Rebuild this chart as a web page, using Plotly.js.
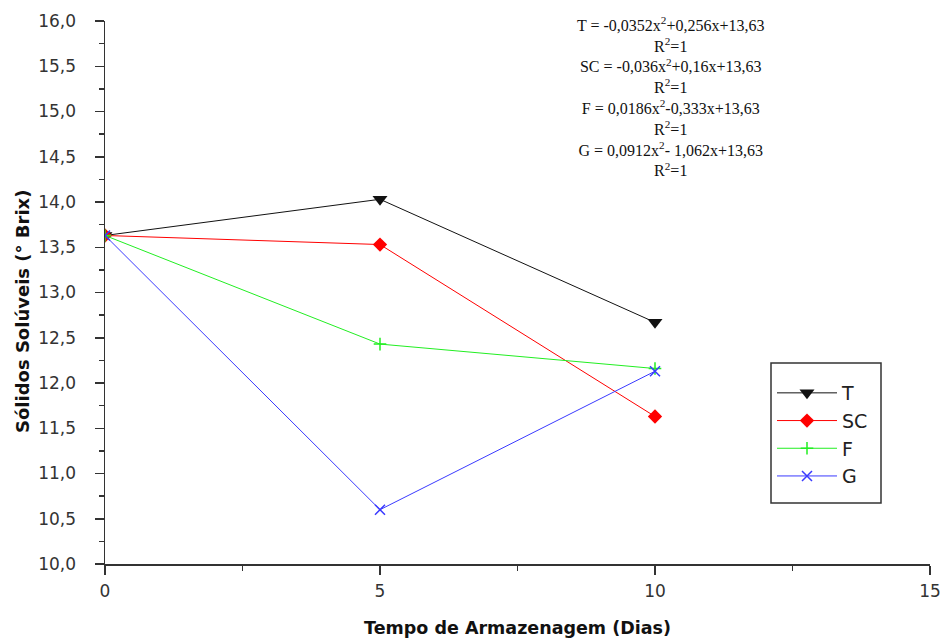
<!DOCTYPE html>
<html>
<head>
<meta charset="utf-8">
<script src="https://cdn.plot.ly/plotly-3.0.1.min.js"></script>
<style>html,body{margin:0;padding:0;background:#fff;}#chart{width:944px;height:638px;}</style>
</head>
<body>
<div id="chart"></div>
<script>
const days = [0, 5, 10];
const seriesNames = ["T", "SC", "F", "G"];
const valuesT = [13.63, 14.03, 12.67];
const valuesSC = [13.63, 13.53, 11.63];
const valuesF = [13.63, 12.43, 12.16];
const valuesG = [13.63, 10.60, 12.13];
const equations = [
  "T = -0,0352x<sup>2</sup>+0,256x+13,63", "R<sup>2</sup>=1",
  "SC = -0,036x<sup>2</sup>+0,16x+13,63", "R<sup>2</sup>=1",
  "F = 0,0186x<sup>2</sup>-0,333x+13,63", "R<sup>2</sup>=1",
  "G = 0,0912x<sup>2</sup>- 1,062x+13,63", "R<sup>2</sup>=1"
];
const xTitle = "Tempo de Armazenagem (Dias)";
const yTitle = "Sólidos Solúveis (° Brix)";

const styles = [
  {color: "#111111", symbol: "triangle-down", size: 13, lw: 0, lc: "#111111"},
  {color: "#ff0000", symbol: "diamond", size: 11, lw: 0, lc: "#ff0000"},
  {color: "#22ee22", symbol: "cross-thin", size: 9, lw: 1.5, lc: "#22ee22"},
  {color: "#3a3aff", symbol: "x-thin", size: 10, lw: 1.5, lc: "#3a3aff"}
];
const allValues = [valuesT, valuesSC, valuesF, valuesG];

const traces = seriesNames.map((name, i) => ({
  x: days, y: allValues[i], name: name, type: "scatter", mode: "lines+markers",
  line: {color: styles[i].color, width: 1},
  marker: {symbol: styles[i].symbol, size: styles[i].size, color: styles[i].color,
           line: {color: styles[i].lc, width: styles[i].lw}}
}));

// plot-area pixel helpers (for placing the legend box and free texts)
const L = 105, R = 930, T = 21, B = 564;
const px = v => (v - L) / (R - L);
const py = v => (B - v) / (B - T);

const tickFont = {family: "DejaVu Sans", size: 17, color: "#333333"};
const layout = {
  width: 944, height: 638,
  margin: {l: 105, r: 14, t: 21, b: 74},
  paper_bgcolor: "#ffffff", plot_bgcolor: "#ffffff",
  separators: ",.",
  showlegend: true,
  legend: {
    x: px(772), y: py(374), xanchor: "left", yanchor: "top",
    bgcolor: "rgba(0,0,0,0)", borderwidth: 0,
    font: {family: "DejaVu Sans", size: 19, color: "#222222"},
    itemwidth: 60
  },
  shapes: [{
    type: "rect", xref: "paper", yref: "paper", layer: "above",
    x0: px(771), x1: px(881), y0: py(503), y1: py(363),
    line: {color: "#333333", width: 1.5}, fillcolor: "rgba(0,0,0,0)"
  }],
  xaxis: {
    range: [0, 15], tickvals: [0, 5, 10, 15], ticktext: ["0", "5", "10", "15"],
    ticks: "outside", ticklen: 9, tickwidth: 1.5, tickcolor: "#333333",
    showline: true, linecolor: "#333333", linewidth: 1.5,
    showgrid: false, zeroline: false, tickfont: tickFont, ticklabelstandoff: 2,
    minor: {dtick: 2.5, tick0: 0, ticks: "outside", ticklen: 5, tickwidth: 1.5, tickcolor: "#333333", showgrid: false},
    title: {text: xTitle, font: {family: "DejaVu Sans", size: 17.5, weight: "bold", color: "#111111"}, standoff: 24}
  },
  yaxis: {
    range: [10, 16], dtick: 0.5, tick0: 10, tickformat: ".1f",
    ticks: "outside", ticklen: 9, tickwidth: 1.5, tickcolor: "#333333",
    showline: true, linecolor: "#333333", linewidth: 1.5,
    showgrid: false, zeroline: false, tickfont: tickFont, ticklabelstandoff: 15,
    minor: {dtick: 0.25, tick0: 10, ticks: "outside", ticklen: 5, tickwidth: 1.5, tickcolor: "#333333", showgrid: false}
  },
  annotations: [{
    text: equations.join("<br>"), xref: "paper", yref: "paper",
    x: px(670), y: py(12), xanchor: "center", yanchor: "top",
    showarrow: false, align: "center",
    font: {family: "Liberation Serif", size: 16, color: "#111111"}
  }, {
    text: "<b>" + yTitle + "</b>", xref: "paper", yref: "paper",
    x: px(22), y: py(312), xanchor: "center", yanchor: "middle",
    textangle: -90, showarrow: false,
    font: {family: "DejaVu Sans", size: 18, color: "#111111"}
  }]
};
Plotly.newPlot("chart", traces, layout, {displayModeBar: false, staticPlot: true});
</script>
</body>
</html>
